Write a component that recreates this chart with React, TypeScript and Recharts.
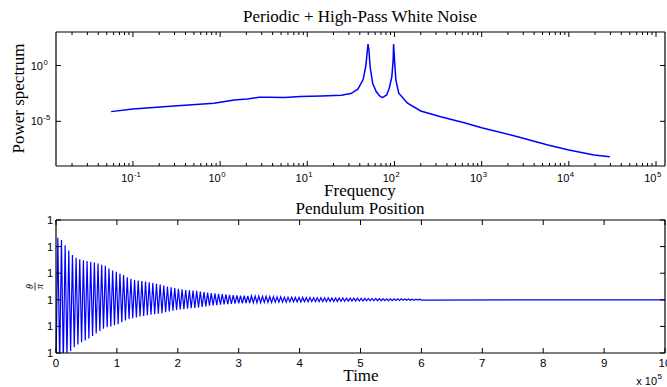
import React from "react";
import { LineChart, Line, XAxis, YAxis } from "recharts";

// power spectrum
const freq = [
  0.0562, 0.1, 0.295, 0.851, 1.0, 1.45, 2.04, 2.82, 3.55, 5.5, 8.3, 14.5, 24.5,
  31.6, 38, 43.6, 46.8, 49.0, 49.7, 50.9, 52.5, 56.2, 61.7, 67.6, 72.4, 81.3,
  87.1, 93.3, 96.6, 97.7, 100, 103.7, 112, 141, 200, 339, 631, 1000, 2400, 5750,
  10000, 19500, 29500,
];
const power = [
  7.4e-5, 1.29e-4, 2.4e-4, 4.17e-4, 5.1e-4, 8.3e-4, 1.02e-3, 1.45e-3, 1.45e-3,
  1.35e-3, 1.66e-3, 1.9e-3, 2.2e-3, 3.1e-3, 7.6e-3, 0.052, 0.81, 25.7, 83, 25.7,
  0.81, 0.026, 4.7e-3, 1.9e-3, 1.35e-3, 2.3e-3, 9.3e-3, 0.102, 3.2, 83, 3.2,
  0.052, 3.3e-3, 4.2e-4, 8.5e-5, 2.6e-5, 7.6e-6, 2.7e-6, 4.8e-7, 7.6e-8, 2.7e-8,
  9.5e-9, 6.8e-9,
];

// pendulum: theta/pi minus 1, in units of 1e-3, one peak and one trough per swing
const swingStart = -2.4;
const swingHigh = [
  2.33, 2.25, 2.05, 1.85, 1.68, 1.58, 1.52, 1.49, 1.46, 1.43,
  1.4, 1.36, 1.32, 1.28, 1.18, 1.1, 1.05, 0.99, 0.93, 0.85,
  0.79, 0.74, 0.72, 0.71, 0.69, 0.66, 0.63, 0.6, 0.57, 0.54,
  0.5, 0.47, 0.44, 0.41, 0.39, 0.37, 0.36, 0.35, 0.34, 0.31,
  0.29, 0.27, 0.25, 0.24, 0.22, 0.21, 0.2, 0.19, 0.18, 0.17,
  0.16, 0.16, 0.15, 0.15, 0.14, 0.14, 0.13, 0.13, 0.12, 0.12,
  0.11, 0.11, 0.1, 0.1, 0.1, 0.09, 0.09, 0.09, 0.085, 0.085,
  0.08, 0.08, 0.08, 0.075, 0.075, 0.07, 0.07, 0.07, 0.065, 0.065,
  0.06, 0.06, 0.06, 0.055, 0.055, 0.05, 0.05, 0.05, 0.045, 0.045,
  0.04, 0.04, 0.04, 0.035, 0.035, 0.03, 0.03, 0.025, 0.02, 0.02,
];
const swingLow = [
  -2.4, -2.35, -2.15, -1.92, -1.78, -1.68, -1.6, -1.53, -1.45, -1.36,
  -1.27, -1.17, -1.09, -1.03, -1.0, -0.96, -0.92, -0.84, -0.78, -0.72,
  -0.69, -0.66, -0.63, -0.61, -0.58, -0.56, -0.54, -0.52, -0.5, -0.47,
  -0.44, -0.41, -0.38, -0.36, -0.35, -0.33, -0.32, -0.31, -0.29, -0.27,
  -0.25, -0.22, -0.21, -0.2, -0.18, -0.17, -0.16, -0.15, -0.14, -0.13,
  -0.13, -0.12, -0.12, -0.11, -0.11, -0.11, -0.1, -0.1, -0.1, -0.09,
  -0.09, -0.09, -0.09, -0.08, -0.08, -0.08, -0.08, -0.075, -0.075, -0.07,
  -0.07, -0.07, -0.065, -0.065, -0.06, -0.06, -0.06, -0.055, -0.055, -0.05,
  -0.05, -0.05, -0.045, -0.045, -0.04, -0.04, -0.04, -0.035, -0.035, -0.03,
  -0.03, -0.03, -0.025, -0.025, -0.02, -0.02, -0.02, -0.015, -0.01, -0.01,
];
const swingPeriod = 0.06; // x 10^5
const timeEnd = 10;

const freqMajor = [0.1, 1, 10, 100, 1000, 10000, 100000];
const powerTicks = [1e-5, 1];
const timeTicks = [0, 1, 2, 3, 4, 5, 6, 7, 8, 9, 10];
const thetaTicks = [0.998, 0.999, 1, 1.001, 1.002, 1.003];

const FREQ_DOMAIN = [0.0131, 126800];
const POWER_DOMAIN = [1e-9, 1e3];
const BLUE = "#0000ff";
const SANS = "'Liberation Sans', Arial, sans-serif";
const SERIF = "'Liberation Serif', 'DejaVu Serif', serif";

const spectrum = freq.map((f, i) => ({ f, p: power[i] }));

const pendulum = [{ t: 0, y: 1 + swingStart / 1000 }];
swingHigh.forEach((h, k) => {
  pendulum.push({ t: swingPeriod * k + swingPeriod / 2, y: 1 + h / 1000 });
  pendulum.push({ t: swingPeriod * (k + 1), y: 1 + swingLow[k] / 1000 });
});
pendulum.push({ t: timeEnd, y: 1 });

// minor ticks 2..9 in every decade inside the axis range
const freqTicks: number[] = [];
[0.01, ...freqMajor].forEach((d) => {
  for (let m = 1; m < 10; m++) {
    const v = m * d;
    if (v >= FREQ_DOMAIN[0] && v <= FREQ_DOMAIN[1]) freqTicks.push(v);
  }
});

const isDecade = (v: number) => {
  const e = Math.round(Math.log10(v));
  return Math.abs(v - Math.pow(10, e)) < 1e-6 * v;
};

const Pow10 = ({ x, y, exp, size }: any) => (
  <g style={{ fontFamily: SANS }} fill="#000">
    <text x={x} y={y} fontSize={size} textAnchor="end">10</text>
    <text x={x + 0.5} y={y - size * 0.45} fontSize={size * 0.7} textAnchor="start">
      {exp}
    </text>
  </g>
);

const freqTick = (top: boolean) => (props: any) => {
  const { x, y, payload } = props;
  const major = isDecade(payload.value);
  const len = major ? 5 : 3;
  return (
    <g>
      <line x1={x} x2={x} y1={y} y2={top ? y + len : y - len} stroke="#000" />
      {major && !top && (
        <Pow10 x={x + 0.5} y={y + 16} size={11} exp={Math.round(Math.log10(payload.value))} />
      )}
    </g>
  );
};

const powerTick = (right: boolean) => (props: any) => {
  const { x, y, payload } = props;
  return (
    <g>
      <line x1={x} x2={right ? x - 5 : x + 5} y1={y} y2={y} stroke="#000" />
      {!right && <Pow10 x={x - 13} y={y + 4} size={11} exp={Math.round(Math.log10(payload.value))} />}
    </g>
  );
};

const timeTick = (top: boolean) => (props: any) => {
  const { x, y, payload } = props;
  return (
    <g>
      <line x1={x} x2={x} y1={y} y2={top ? y + 5 : y - 5} stroke="#000" />
      {!top && (
        <text x={x} y={y + 14} fontSize={11.5} style={{ fontFamily: SANS }} textAnchor="middle" fill="#000">
          {payload.value}
        </text>
      )}
    </g>
  );
};

const thetaTick = (right: boolean) => (props: any) => {
  const { x, y, payload } = props;
  return (
    <g>
      <line x1={x} x2={right ? x - 5 : x + 5} y1={y} y2={y} stroke="#000" />
      {!right && (
        <text x={x - 3} y={y + 4} fontSize={11} style={{ fontFamily: SANS }} textAnchor="end" fill="#000">
          {Math.round(payload.value)}
        </text>
      )}
    </g>
  );
};

const axisProps = {
  tickSize: 0,
  tickMargin: 0,
  tickLine: false,
  interval: 0 as const,
  axisLine: { stroke: "#000", strokeWidth: 1.2 },
};

export default function App() {
  return (
    <div style={{ position: "absolute", left: 0, top: 0, width: 667, height: 387, background: "#fff" }}>
      <div style={{ position: "absolute", left: 0, top: 0 }}>
        <LineChart width={667} height={200} data={spectrum} margin={{ top: 31, right: 1, bottom: 33, left: 55 }}>
          <XAxis xAxisId="b" dataKey="f" type="number" scale="log" domain={FREQ_DOMAIN} allowDataOverflow
            ticks={freqTicks} height={1} tick={freqTick(false)} {...axisProps} />
          <XAxis xAxisId="t" orientation="top" dataKey="f" type="number" scale="log" domain={FREQ_DOMAIN}
            allowDataOverflow ticks={freqTicks} height={1} tick={freqTick(true)} {...axisProps} />
          <YAxis yAxisId="l" type="number" scale="log" domain={POWER_DOMAIN} allowDataOverflow ticks={powerTicks}
            width={1} tick={powerTick(false)} {...axisProps} />
          <YAxis yAxisId="r" orientation="right" type="number" scale="log" domain={POWER_DOMAIN} allowDataOverflow
            ticks={powerTicks} width={1} tick={powerTick(true)} {...axisProps} />
          <Line xAxisId="b" yAxisId="l" dataKey="p" type="linear" stroke={BLUE} strokeWidth={1.5}
            dot={false} isAnimationActive={false} />
        </LineChart>
      </div>
      <div style={{ position: "absolute", left: 0, top: 200 }}>
        <LineChart width={667} height={187} data={pendulum} margin={{ top: 19, right: 1, bottom: 33, left: 55 }}>
          <XAxis xAxisId="b" dataKey="t" type="number" domain={[0, timeEnd]} ticks={timeTicks} height={1}
            tick={timeTick(false)} {...axisProps} />
          <XAxis xAxisId="t" orientation="top" dataKey="t" type="number" domain={[0, timeEnd]} ticks={timeTicks}
            height={1} tick={timeTick(true)} {...axisProps} />
          <YAxis yAxisId="l" type="number" domain={[0.998, 1.003]} allowDataOverflow ticks={thetaTicks} width={1}
            tick={thetaTick(false)} {...axisProps} />
          <YAxis yAxisId="r" orientation="right" type="number" domain={[0.998, 1.003]} allowDataOverflow
            ticks={thetaTicks} width={1} tick={thetaTick(true)} {...axisProps} />
          <Line xAxisId="b" yAxisId="l" dataKey="y" type="linear" stroke={BLUE} strokeWidth={1.2}
            dot={false} isAnimationActive={false} />
        </LineChart>
      </div>
      <svg width={667} height={387} style={{ position: "absolute", left: 0, top: 0, pointerEvents: "none" }}>
        <g style={{ fontFamily: SERIF }} fontSize={17} fill="#000" textAnchor="middle">
          <text x={360} y={21.5}>Periodic + High-Pass White Noise</text>
          <text x={360} y={196}>Frequency</text>
          <text x={360} y={213.5}>Pendulum Position</text>
          <text x={361} y={381}>Time</text>
          <text transform="translate(24,98.5) rotate(-90)">Power spectrum</text>
        </g>
        <g transform="translate(35,286.5) rotate(-90)" style={{ fontFamily: SERIF }} fontSize={10} fill="#000"
          textAnchor="middle">
          <text x={0} y={-2} fontStyle="italic">θ</text>
          <line x1={-4} x2={4} y1={0} y2={0} stroke="#000" strokeWidth={0.8} />
          <text x={0} y={7.5} fontStyle="italic">π</text>
        </g>
        <g style={{ fontFamily: SANS }} fill="#000">
          <text x={657} y={385} fontSize={11} textAnchor="end">x 10</text>
          <text x={657.5} y={379} fontSize={8}>5</text>
        </g>
      </svg>
    </div>
  );
}
